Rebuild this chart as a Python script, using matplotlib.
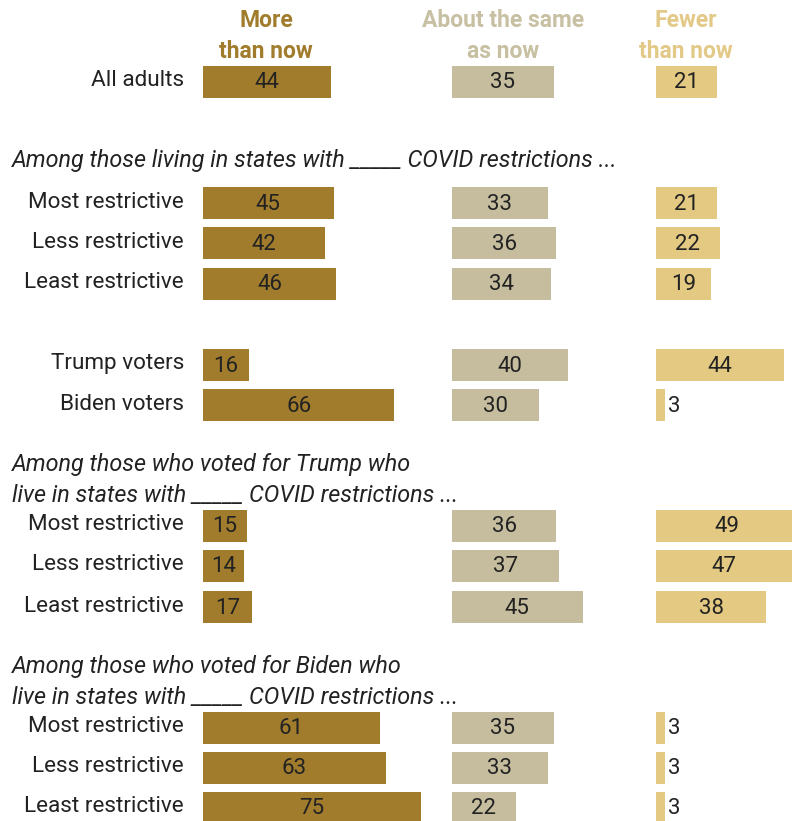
import matplotlib.pyplot as plt
from matplotlib import font_manager

# rows, top to bottom
row_labels = ["All adults",
              "Most restrictive", "Less restrictive", "Least restrictive",
              "Trump voters", "Biden voters",
              "Most restrictive", "Less restrictive", "Least restrictive",
              "Most restrictive", "Less restrictive", "Least restrictive"]
more_than_now = [44, 45, 42, 46, 16, 66, 15, 14, 17, 61, 63, 75]
about_same = [35, 33, 36, 34, 40, 30, 36, 37, 45, 35, 33, 22]
fewer_than_now = [21, 21, 22, 19, 44, 3, 49, 47, 38, 3, 3, 3]

col_titles = ["More\nthan now", "About the same\nas now", "Fewer\nthan now"]
section_titles = [
    "Among those living in states with _____ COVID restrictions ...",
    "Among those who voted for Trump who\nlive in states with _____ COVID restrictions ...",
    "Among those who voted for Biden who\nlive in states with _____ COVID restrictions ...",
]

# layout in pixel units
row_y = [82, 203, 243, 284, 365, 405, 526, 566, 607, 728, 768, 808]
section_y = [161, 480, 682]
col_left = [203, 452, 656]
col_center = [266, 503, 686]
scale = 2.9
bar_h = 32

bar_colors = ["#A07C2C", "#C5BD9E", "#E4C982"]
title_colors = ["#A07C2C", "#C8C0A2", "#E3C987"]


def pick_font():
    for name in ["Roboto", "Liberation Sans", "DejaVu Sans"]:
        try:
            font_manager.findfont(name, fallback_to_default=False)
            return name
        except Exception:
            continue
    return "DejaVu Sans"


font = pick_font()
plt.rcParams["font.family"] = font

W, H = 792, 821
fig = plt.figure(figsize=(W / 100, H / 100), dpi=100)
ax = fig.add_axes([0, 0, 1, 1])
ax.set_xlim(0, W)
ax.set_ylim(H, 0)
ax.axis("off")

series = [more_than_now, about_same, fewer_than_now]
for ci, vals in enumerate(series):
    widths = [v * scale for v in vals]
    ax.barh(row_y, widths, left=col_left[ci], height=bar_h,
            color=bar_colors[ci], edgecolor="none")
    for y, v, w in zip(row_y, vals, widths):
        if v < 8:
            ax.text(col_left[ci] + w + 3, y + 1, str(v), ha="left", va="center",
                    fontsize=16, color="#222222")
        else:
            ax.text(col_left[ci] + w / 2, y + 1, str(v), ha="center", va="center",
                    fontsize=16, color="#222222")
    ax.text(col_center[ci], 36, col_titles[ci], ha="center", va="center",
            fontsize=16.5, fontweight="bold", color=title_colors[ci],
            linespacing=1.45)

for y, lab in zip(row_y, row_labels):
    ax.text(184, y - 1, lab, ha="right", va="center", fontsize=16.2, color="#222222")

for y, t in zip(section_y, section_titles):
    ax.text(12, y, t, ha="left", va="center", fontsize=16.8, style="italic",
            color="#222222", linespacing=1.4)

fig.savefig("out.png", dpi=100)
